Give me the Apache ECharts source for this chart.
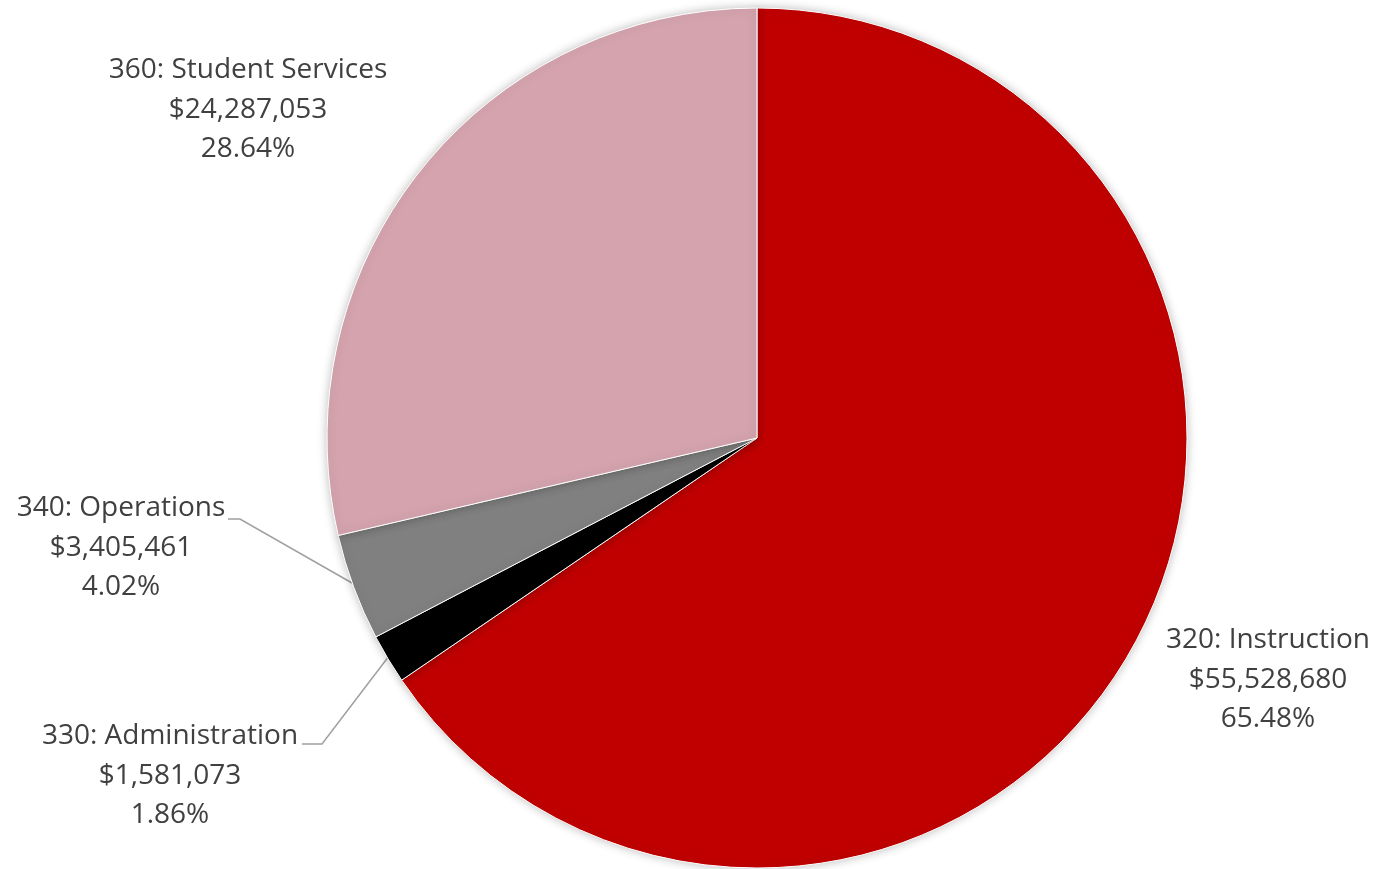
<!DOCTYPE html>
<html>
<head>
<meta charset="utf-8">
<script src="https://cdn.jsdelivr.net/npm/echarts@6/dist/echarts.min.js"></script>
<style>html,body{margin:0;padding:0;background:#fff;}#c{width:1380px;height:869px;}</style>
</head>
<body>
<div id="c"></div>
<script>
const categories = ['320: Instruction', '330: Administration', '340: Operations', '360: Student Services'];
const amounts = [55528680, 1581073, 3405461, 24287053];
const colors = ['#C00000', '#000000', '#808080', '#D4A3AE'];

const labelPos = [
  {x: 1268, y: 680, line: null},
  {x: 170, y: 776, line: [[302, 744], [322, 744], [389, 656]]},
  {x: 121, y: 548, line: [[228, 519], [240, 519], [352, 583]]},
  {x: 248, y: 110, line: null}
];

const chart = echarts.init(document.getElementById('c'), null, {renderer: 'canvas'});
chart.setOption({
  backgroundColor: '#fff',
  animation: false,
  series: [{
    type: 'pie',
    center: [757, 438],
    radius: 430,
    startAngle: 90,
    clockwise: true,
    data: categories.map((c, i) => ({
      name: c,
      value: amounts[i],
      itemStyle: {color: colors[i]},
      labelLine: {show: !!labelPos[i].line}
    })),
    itemStyle: {
      borderColor: '#fff',
      borderWidth: 1,
      shadowBlur: 10,
      shadowColor: 'rgba(0,0,0,0.25)'
    },
    label: {
      show: true,
      position: 'outside',
      fontFamily: 'Open Sans',
      fontSize: 28,
      lineHeight: 39.5,
      color: '#404040',
      align: 'center',
      overflow: 'none',
      edgeDistance: 0,
      formatter: p => p.name + '\n$' + p.value.toLocaleString('en-US') + '\n' + p.percent.toFixed(2) + '%'
    },
    labelLine: {
      lineStyle: {color: '#A0A0A0', width: 1.5},
      smooth: false
    },
    labelLayout: function (params) {
      const lp = labelPos[params.dataIndex];
      const r = {x: lp.x, y: lp.y, align: 'center', verticalAlign: 'middle', width: 300};
      if (lp.line) r.labelLinePoints = lp.line;
      return r;
    }
  }]
});
</script>
</body>
</html>
